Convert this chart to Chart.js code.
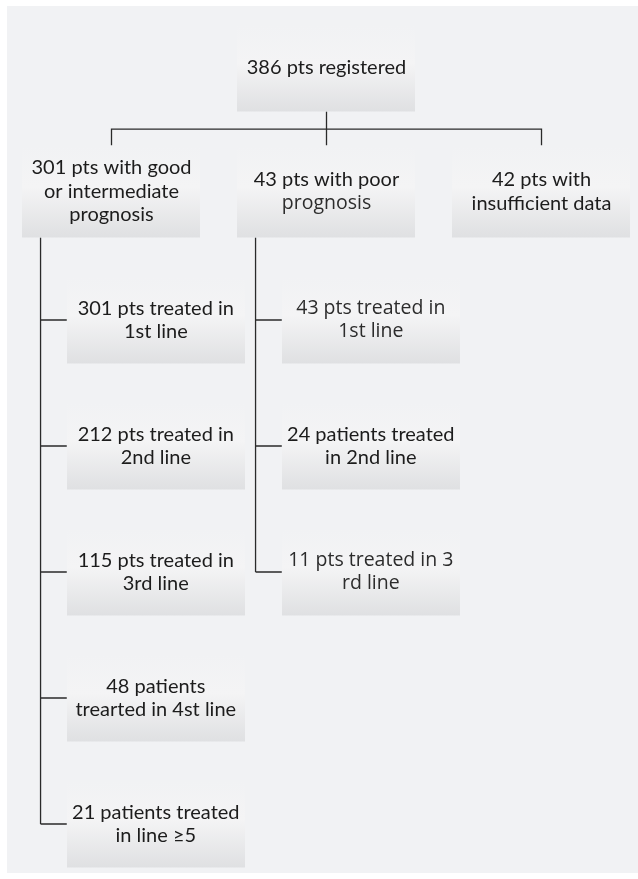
<!DOCTYPE html>
<html>
<head>
<meta charset="utf-8">
<script src="https://cdn.jsdelivr.net/npm/chart.js@4"></script>
<style>
  body { margin: 0; background: #fff; }
  #wrap { width: 638px; height: 879px; }
</style>
</head>
<body>
<div id="wrap"><canvas id="flow" width="638" height="879"></canvas></div>
<script>
// flowchart content
const topLabel = ["386 pts registered"];
const groupLabels = [
  ["301 pts with good", "or intermediate", "prognosis"],
  ["43 pts with poor", "prognosis"],
  ["42 pts with", "insufficient data"],
];
const goodPrognosisLines = [
  ["301 pts treated in", "1st line"],
  ["212 pts treated in", "2nd line"],
  ["115 pts treated in", "3rd line"],
  ["48 patients", "trearted in 4st line"],
  ["21 patients treated", "in line \u22655"],
];
const poorPrognosisLines = [
  ["43 pts treated in", "1st line"],
  ["24 patients treated", "in 2nd line"],
  ["11 pts treated in 3", "rd line"],
];

// layout in scale units: x = group column, y = row level
const GROUP_ROW = 0.98;
const BRANCH_ROW = 0.485;
const SUB_OFFSET = 0.206;
const TRUNK_OFFSET = -0.33;
const BOX_W = 0.828;

const nodes = [];
nodes.push({ x: 1, y: 0, lines: topLabel, h: 0.69 });
groupLabels.forEach((lines, i) => {
  nodes.push({ x: i, y: GROUP_ROW, lines: lines, h: 0.73, group: i });
});
const subLists = [goodPrognosisLines, poorPrognosisLines];
subLists.forEach((list, g) => {
  list.forEach((lines, r) => {
    nodes.push({ x: g + SUB_OFFSET, y: 2 + r, lines: lines, h: 0.69, sub: g });
  });
});

// lighter typeface used on a few labels in the original figure
const altFontLines = new Set(["prognosis@1", "43 pts treated in", "1st line@p", "11 pts treated in 3", "rd line"]);

const BG = "#f1f2f4";

const flowPlugin = {
  id: "flow",
  beforeDraw(chart) {
    const ctx = chart.ctx;
    ctx.save();
    ctx.fillStyle = "#ffffff";
    ctx.fillRect(0, 0, chart.width, chart.height);
    ctx.fillStyle = BG;
    ctx.fillRect(7, 6, chart.width - 7, 867);
    ctx.restore();
  },
  afterDatasetsDraw(chart) {
    const ctx = chart.ctx;
    const xs = chart.scales.x;
    const ys = chart.scales.y;
    const px = (v) => xs.getPixelForValue(v);
    const py = (v) => ys.getPixelForValue(v);
    const boxW = px(BOX_W) - px(0);

    ctx.save();
    // connectors
    ctx.strokeStyle = "#2a2a2a";
    ctx.lineWidth = 1.3;
    ctx.beginPath();
    const top = nodes[0];
    ctx.moveTo(px(1), py(top.y + top.h / 2));
    ctx.lineTo(px(1), py(GROUP_ROW - 0.73 / 2));
    ctx.moveTo(px(0), py(GROUP_ROW - 0.73 / 2));
    ctx.lineTo(px(0), py(BRANCH_ROW));
    ctx.lineTo(px(2), py(BRANCH_ROW));
    ctx.lineTo(px(2), py(GROUP_ROW - 0.73 / 2));
    subLists.forEach((list, g) => {
      const tx = px(g + TRUNK_OFFSET);
      ctx.moveTo(tx, py(GROUP_ROW + 0.73 / 2));
      ctx.lineTo(tx, py(2 + list.length - 1));
      list.forEach((_, r) => {
        ctx.moveTo(tx, py(2 + r));
        ctx.lineTo(px(g + SUB_OFFSET) - boxW / 2, py(2 + r));
      });
    });
    ctx.stroke();

    // boxes and labels
    nodes.forEach((n) => {
      const cx = px(n.x);
      const cy = py(n.y);
      const h = py(n.h) - py(0);
      const x0 = Math.round(cx - boxW / 2);
      const y0 = cy - h / 2;
      const grad = ctx.createLinearGradient(0, y0, 0, y0 + h);
      grad.addColorStop(0, BG);
      grad.addColorStop(0.45, "#f4f4f5");
      grad.addColorStop(1, "#dfe0e2");
      ctx.fillStyle = grad;
      ctx.fillRect(x0, y0, Math.round(boxW), h);

      const lh = 23.5;
      const startY = cy - ((n.lines.length - 1) * lh) / 2;
      ctx.textAlign = "center";
      ctx.textBaseline = "middle";
      n.lines.forEach((t, i) => {
        let key = t;
        if (n.group === 1 && t === "prognosis") key = "prognosis@1";
        if (n.sub === 1 && t === "1st line") key = "1st line@p";
        if (altFontLines.has(key)) {
          ctx.font = "19.5px 'Open Sans'";
          ctx.fillStyle = "#2c2c2c";
        } else {
          ctx.font = "20px Lato";
          ctx.fillStyle = "#1c1c1c";
        }
        ctx.fillText(t, cx, startY + i * lh);
      });
    });
    ctx.restore();
  },
};

new Chart(document.getElementById("flow"), {
  type: "scatter",
  data: {
    datasets: [
      {
        data: nodes.map((n) => ({ x: n.x, y: n.y })),
        pointRadius: 0,
        pointHoverRadius: 0,
      },
    ],
  },
  options: {
    responsive: false,
    animation: false,
    events: [],
    layout: { padding: 0 },
    plugins: { legend: { display: false }, tooltip: { enabled: false } },
    scales: {
      x: { type: "linear", display: false, min: -0.5186, max: 2.4488 },
      y: { type: "linear", display: false, reverse: true, min: -0.5397, max: 6.4365 },
    },
  },
  plugins: [flowPlugin],
});
</script>
</body>
</html>
